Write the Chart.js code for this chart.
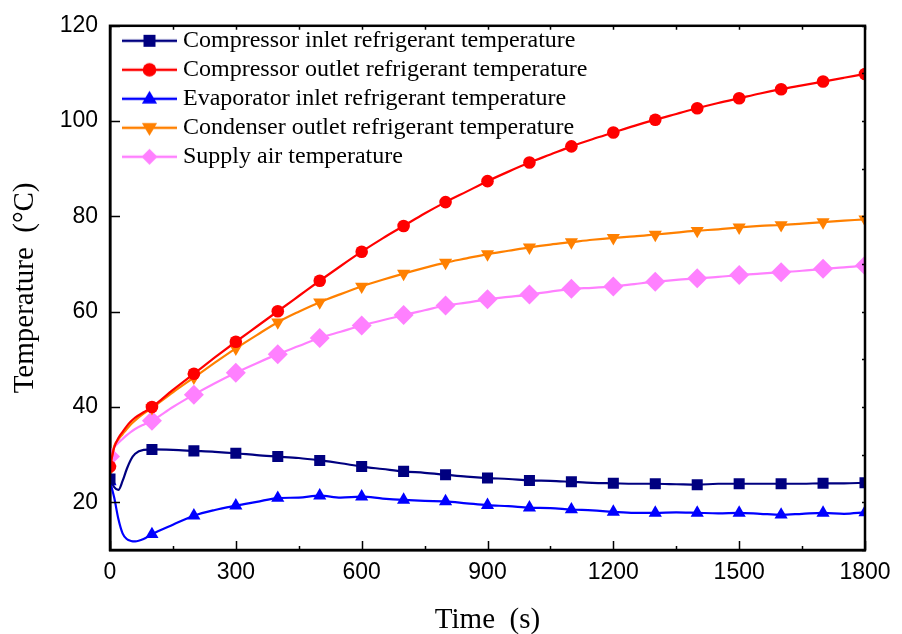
<!DOCTYPE html>
<html>
<head>
<meta charset="utf-8">
<script src="https://cdn.jsdelivr.net/npm/chart.js@4"></script>
<style>
html,body{margin:0;padding:0;background:#fff;}
#wrap{width:902px;height:634px;}
</style>
</head>
<body>
<div id="wrap"><canvas id="c" width="902" height="634"></canvas></div>
<script>
// ---- data (time in s, temperatures in °C) ----
const timeS = [0,10,20,30,40,50,60,80,100,
  150,200,250,300,350,400,450,500,550,600,650,700,750,800,850,900,950,1000,
  1050,1100,1150,1200,1250,1300,1350,1400,1450,1500,1550,1600,1650,1700,1750,1800];

const compInlet = [24.9,23.2,22.6,24.5,27.0,29.0,30.2,31.0,31.1,
  31.0,30.8,30.6,30.3,29.9,29.6,29.3,28.8,28.2,27.5,27.0,26.5,26.2,25.8,25.4,25.1,24.9,24.6,
  24.5,24.3,24.1,24.0,23.9,23.9,23.8,23.7,23.9,23.9,23.9,23.9,23.9,24.0,24.0,24.1];

const compOutlet = [27.5,31.5,33.5,34.8,36.0,37.0,37.8,38.9,40.0,
  43.6,47.0,50.4,53.7,56.9,60.1,63.3,66.5,69.6,72.6,75.4,78.0,80.6,83.0,85.2,87.4,89.4,91.3,
  93.0,94.7,96.2,97.6,99.0,100.3,101.5,102.7,103.8,104.8,105.8,106.7,107.5,108.3,109.1,109.9];

const evapInlet = [24.4,21.0,16.5,13.5,12.3,11.9,11.8,12.3,13.3,
  15.3,17.2,18.4,19.3,20.1,20.9,21.0,21.4,21.0,21.2,20.8,20.5,20.3,20.2,19.8,19.4,19.2,18.9,
  18.8,18.5,18.3,18.0,17.8,17.8,17.9,17.8,17.7,17.8,17.6,17.4,17.6,17.8,17.6,17.9];

const condOutlet = [27.0,31.8,33.2,34.3,35.4,36.4,37.2,38.6,39.8,
  43.1,46.2,49.3,52.3,55.1,57.8,60.0,62.0,63.7,65.3,66.7,68.0,69.2,70.3,71.2,72.1,72.8,73.5,
  74.1,74.6,75.1,75.5,75.8,76.2,76.6,77.0,77.3,77.7,78.0,78.2,78.5,78.8,79.1,79.4];

const supplyAir = [29.6,31.5,32.5,33.3,34.1,34.8,35.4,36.3,37.1,
  40.0,42.6,45.0,47.2,49.2,51.1,52.8,54.5,55.8,57.1,58.2,59.3,60.3,61.3,61.9,62.6,63.1,63.6,
  64.2,64.8,65.0,65.3,65.8,66.3,66.7,67.0,67.3,67.7,68.0,68.3,68.6,69.0,69.3,69.7];

const seriesNames = [
  'Compressor inlet refrigerant temperature',
  'Compressor outlet refrigerant temperature',
  'Evaporator inlet refrigerant temperature',
  'Condenser outlet refrigerant temperature',
  'Supply air temperature'
];
const seriesValues = [compInlet, compOutlet, evapInlet, condOutlet, supplyAir];
const seriesColors = ['#000080', '#FF0000', '#0000FF', '#FF8000', '#FF80FF'];
const seriesMarkers = ['rect', 'circle', 'triangle', 'triangleDown', 'rectRot'];

const xTickLabels = [0, 300, 600, 900, 1200, 1500, 1800];
const yTickLabels = [20, 40, 60, 80, 100, 120];

// ---- styling ----
const serif = "'Times New Roman', 'Liberation Serif', serif";
const sans = "Arial, 'Liberation Sans', sans-serif";

function markerStyle(m){ return m === 'triangleDown' ? 'triangle' : m; }
function markerRot(m){ return m === 'triangleDown' ? 180 : 0; }
function markerRadius(m){
  if (m === 'rect') return 7.8;
  if (m === 'circle') return 6.3;
  if (m === 'rectRot') return 10;
  return 7.6;
}

function drawMarker(ctx, m, x, y, r){
  ctx.beginPath();
  if (m === 'rect') { ctx.rect(x - r*0.75, y - r*0.75, r*1.5, r*1.5); }
  else if (m === 'circle') { ctx.arc(x, y, r*0.85, 0, Math.PI*2); }
  else if (m === 'triangle') { ctx.moveTo(x, y - r); ctx.lineTo(x + r*0.95, y + r*0.6); ctx.lineTo(x - r*0.95, y + r*0.6); ctx.closePath(); }
  else if (m === 'triangleDown') { ctx.moveTo(x, y + r); ctx.lineTo(x + r*0.95, y - r*0.6); ctx.lineTo(x - r*0.95, y - r*0.6); ctx.closePath(); }
  else if (m === 'rectRot') { ctx.moveTo(x, y - r); ctx.lineTo(x + r, y); ctx.lineTo(x, y + r); ctx.lineTo(x - r, y); ctx.closePath(); }
  ctx.fill();
}

// legend glyph: line + marker, drawn into a small canvas used as the legend point style
function legendIcon(color, m){
  const cv = document.createElement('canvas');
  cv.width = 68; cv.height = 22;
  const g = cv.getContext('2d');
  g.strokeStyle = color; g.fillStyle = color; g.lineWidth = 2.4;
  g.beginPath(); g.moveTo(13, 11); g.lineTo(68, 11); g.stroke();
  drawMarker(g, m, 40.5, 11, 8);
  return cv;
}

const datasets = seriesNames.map((name, i) => ({
  label: name,
  data: timeS.map((t, k) => ({x: t, y: seriesValues[i][k]})),
  borderColor: seriesColors[i],
  backgroundColor: seriesColors[i],
  borderWidth: 2.2,
  cubicInterpolationMode: 'monotone',
  pointStyle: markerStyle(seriesMarkers[i]),
  rotation: markerRot(seriesMarkers[i]),
  pointRadius: ctx => (ctx.raw && ctx.raw.x % 100 === 0) ? markerRadius(seriesMarkers[i]) : 0,
  pointHoverRadius: 0,
  pointBorderWidth: 0,
  pointBackgroundColor: seriesColors[i],
  pointBorderColor: seriesColors[i],
  clip: 0
}));

// place the legend inside the plot area, at its top-left
const legendPlace = {
  id: 'legendPlace',
  afterLayout(chart){
    const lg = chart.legend, a = chart.chartArea;
    if (!lg) return;
    lg.left = a.left; lg.right = a.left + lg.width;
    lg.top = a.top - 2; lg.bottom = lg.top + lg.height;
  }
};

// Frame and inward tick marks
const framePlugin = {
  id: 'frame',
  afterDatasetsDraw(chart){
    const {ctx, chartArea: a, scales: {x, y}} = chart;
    ctx.save();
    ctx.strokeStyle = '#000';
    ctx.lineWidth = 1.5;
    ctx.beginPath();
    for (let t = 0; t <= 1800; t += 150) {
      const px = Math.round(x.getPixelForValue(t)) + 0.5;
      const major = xTickLabels.includes(t);
      ctx.moveTo(px, a.bottom); ctx.lineTo(px, a.bottom - (major ? 9 : 4));
      ctx.moveTo(px, a.top); ctx.lineTo(px, a.top + 4);
    }
    for (let v = 10; v <= 120; v += 10) {
      const py = Math.round(y.getPixelForValue(v)) + 0.5;
      if (yTickLabels.includes(v)) { ctx.moveTo(a.left, py); ctx.lineTo(a.left + 10, py); }
      ctx.moveTo(a.right, py); ctx.lineTo(a.right - 3, py);
    }
    ctx.stroke();
    ctx.lineWidth = 2.5;
    ctx.strokeRect(a.left, a.top, a.right - a.left, a.bottom - a.top);
    ctx.restore();
  }
};

new Chart(document.getElementById('c'), {
  type: 'line',
  data: { datasets },
  plugins: [legendPlace, framePlugin],
  options: {
    responsive: false,
    animation: false,
    events: [],
    layout: { padding: { left: 0, top: 18, right: 37, bottom: 0 } },
    plugins: {
      tooltip: { enabled: false },
      legend: {
        position: 'chartArea',
        align: 'start',
        labels: {
          usePointStyle: true,
          pointStyleWidth: 56,
          padding: 5,
          color: '#000',
          font: { family: serif, size: 24 },
          generateLabels: chart => chart.data.datasets.map((ds, i) => ({
            text: ds.label,
            pointStyle: legendIcon(seriesColors[i], seriesMarkers[i]),
            datasetIndex: i,
            fontColor: '#000',
            hidden: false,
            lineWidth: 0,
            strokeStyle: 'rgba(0,0,0,0)',
            fillStyle: 'rgba(0,0,0,0)'
          }))
        }
      }
    },
    scales: {
      x: {
        type: 'linear',
        min: 0, max: 1800,
        afterBuildTicks: s => { s.ticks = xTickLabels.map(v => ({value: v})); },
        afterFit: s => { s.height = 84; },
        grid: { display: false, drawTicks: false },
        border: { display: true, color: '#000', width: 2.5 },
        ticks: { color: '#000', font: { family: sans, size: 23 }, padding: 9, maxRotation: 0, callback: v => String(v) },
        title: { display: true, text: 'Time  (s)', color: '#000', font: { family: serif, size: 29 }, padding: { top: 0, bottom: -4 } }
      },
      y: {
        type: 'linear',
        min: 10, max: 120,
        afterBuildTicks: s => { s.ticks = yTickLabels.map(v => ({value: v})); },
        afterFit: s => { s.width = 110; },
        grid: { display: false, drawTicks: false },
        border: { display: true, color: '#000', width: 2.5 },
        ticks: { color: '#000', font: { family: sans, size: 23 }, padding: 12, callback: v => String(v) },
        title: { display: true, text: 'Temperature  (°C)', color: '#000', font: { family: serif, size: 29 }, padding: { top: 8, bottom: 0 } }
      }
    }
  }
});
</script>
</body>
</html>
